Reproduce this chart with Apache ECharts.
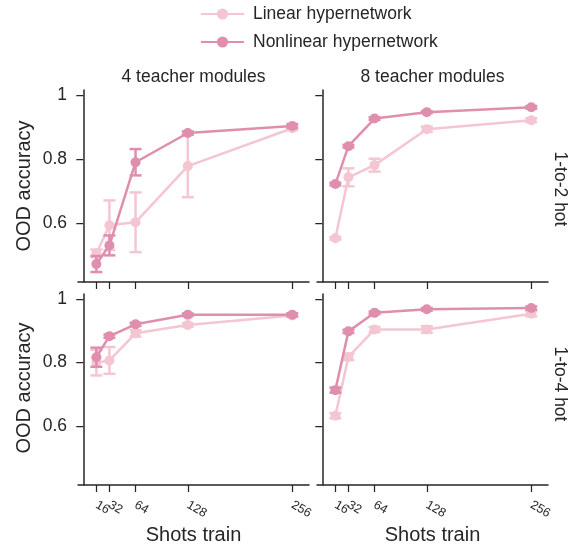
<!DOCTYPE html>
<html>
<head>
<meta charset="utf-8">
<script src="https://cdn.jsdelivr.net/npm/echarts@6/dist/echarts.min.js"></script>
<style>
html,body{margin:0;padding:0;background:#fff;}
#chart{width:569px;height:548px;}
</style>
</head>
<body>
<div id="chart"></div>
<script>
// ---- data ----
const shots = [16, 32, 64, 128, 256];
const xTickLabels = ['16', '32', '64', '128', '256'];
const yTicks = [0.6, 0.8, 1];
const colTitles = ['4 teacher modules', '8 teacher modules'];
const rowTitles = ['1-to-2 hot', '1-to-4 hot'];
const seriesNames = ['Linear hypernetwork', 'Nonlinear hypernetwork'];

// panel order: [4 teachers 1-to-2, 8 teachers 1-to-2, 4 teachers 1-to-4, 8 teachers 1-to-4]
const linearMean = [
  [0.506, 0.594, 0.603, 0.778, 0.896],
  [0.553, 0.743, 0.781, 0.893, 0.921],
  [0.800, 0.807, 0.892, 0.918, 0.948],
  [0.634, 0.818, 0.904, 0.904, 0.953]
];
const linearErr = [
  [0.012, 0.077, 0.093, 0.097, 0.006],
  [0.004, 0.028, 0.020, 0.008, 0.006],
  [0.040, 0.042, 0.010, 0.005, 0.004],
  [0.008, 0.010, 0.008, 0.010, 0.008]
];
const nonlinearMean = [
  [0.473, 0.531, 0.790, 0.881, 0.903],
  [0.722, 0.840, 0.926, 0.946, 0.961],
  [0.817, 0.883, 0.920, 0.950, 0.950],
  [0.714, 0.898, 0.956, 0.967, 0.971]
];
const nonlinearErr = [
  [0.025, 0.031, 0.041, 0.005, 0.006],
  [0.004, 0.004, 0.004, 0.003, 0.004],
  [0.030, 0.005, 0.005, 0.004, 0.005],
  [0.008, 0.005, 0.004, 0.004, 0.005]
];

// ---- style ----
const colors = ['#f4c6d2', '#e08eae'];
const ink = '#262626';
const font = "'Liberation Sans', Arial, sans-serif";

const grids = [
  {left: 78, top: 90, width: 231, height: 192},
  {left: 317, top: 90, width: 231, height: 192},
  {left: 78, top: 294, width: 231, height: 191},
  {left: 317, top: 294, width: 231, height: 191}
];

// tick labels split into two label sets so the crowded 16/32 pair both show
const labelSetA = [shots[0], shots[2], shots[3], shots[4]];
const labelSetB = [shots[1]];

function xLabelCfg(show, values) {
  return {
    show: show, customValues: values, rotate: -30, align: 'left', verticalAlign: 'middle',
    hideOverlap: false, margin: 19, fontSize: 12.5, fontFamily: font, color: ink,
    formatter: v => xTickLabels[shots.indexOf(v)]
  };
}

const xAxes = grids.map((g, i) => ({
  gridIndex: i, type: 'value', min: -6.5, max: 276.5, position: 'bottom',
  axisLine: {show: true, lineStyle: {color: ink, width: 1.5}},
  splitLine: {show: false},
  axisTick: {show: true, customValues: shots, length: 7, lineStyle: {color: ink, width: 1.25}},
  axisLabel: xLabelCfg(i >= 2, labelSetA)
}));
// secondary label-only axes for bottom panels
[2, 3].forEach(i => {
  xAxes.push({
    gridIndex: i, type: 'value', min: -6.5, max: 276.5, position: 'bottom', offset: 0,
    axisLine: {show: false}, axisTick: {show: false}, splitLine: {show: false},
    axisLabel: xLabelCfg(true, labelSetB)
  });
});

const yAxes = grids.map((g, i) => ({
  gridIndex: i, type: 'value', min: 0.417, max: 1.015,
  axisLine: {show: true, lineStyle: {color: ink, width: 1.5}},
  splitLine: {show: false},
  axisTick: {show: true, customValues: yTicks, length: 7, lineStyle: {color: ink, width: 1.25}},
  axisLabel: {
    show: i % 2 === 0, customValues: yTicks, margin: 11, fontSize: 17.5, fontFamily: font, color: ink,
    formatter: v => String(v)
  }
}));

function errSeries(panel, means, errs, color, z) {
  return {
    type: 'custom', xAxisIndex: panel, yAxisIndex: panel, z: z, silent: true, clip: false,
    data: shots.map((s, k) => [s, means[k] - errs[k], means[k] + errs[k]]),
    renderItem: function (params, api) {
      const x = api.value(0), lo = api.value(1), hi = api.value(2);
      const p1 = api.coord([x, hi]), p2 = api.coord([x, lo]);
      const w = 6;
      const st = {stroke: color, lineWidth: 2.5};
      return {type: 'group', children: [
        {type: 'line', shape: {x1: p1[0], y1: p1[1], x2: p2[0], y2: p2[1]}, style: st},
        {type: 'line', shape: {x1: p1[0] - w, y1: p1[1], x2: p1[0] + w, y2: p1[1]}, style: st},
        {type: 'line', shape: {x1: p2[0] - w, y1: p2[1], x2: p2[0] + w, y2: p2[1]}, style: st}
      ]};
    }
  };
}

const series = [];
for (let p = 0; p < 4; p++) {
  series.push({
    name: seriesNames[0], type: 'line', xAxisIndex: p, yAxisIndex: p, z: 3,
    data: shots.map((s, k) => [s, linearMean[p][k]]),
    symbol: 'circle', symbolSize: 10, showSymbol: true,
    lineStyle: {color: colors[0], width: 2.5}, itemStyle: {color: colors[0]}
  });
  series.push({
    name: seriesNames[1], type: 'line', xAxisIndex: p, yAxisIndex: p, z: 5,
    data: shots.map((s, k) => [s, nonlinearMean[p][k]]),
    symbol: 'circle', symbolSize: 10, showSymbol: true,
    lineStyle: {color: colors[1], width: 2.5}, itemStyle: {color: colors[1]}
  });
}
for (let p = 0; p < 4; p++) {
  series.push(errSeries(p, linearMean[p], linearErr[p], colors[0], 2));
  series.push(errSeries(p, nonlinearMean[p], nonlinearErr[p], colors[1], 4));
}

function txt(x, y, text, size, rot) {
  return {
    type: 'text', x: x, y: y, rotation: rot || 0, silent: true,
    style: {text: text, x: 0, y: 0, align: 'center', verticalAlign: 'middle',
      fontSize: size, fontFamily: font, fill: ink}
  };
}

const graphics = [
  txt(193.5, 77, colTitles[0], 17.5),
  txt(432.5, 77, colTitles[1], 17.5),
  txt(24, 186, 'OOD accuracy', 20, Math.PI / 2),
  txt(24, 388, 'OOD accuracy', 20, Math.PI / 2),
  txt(193.5, 535, 'Shots train', 20),
  txt(432.5, 535, 'Shots train', 20),
  txt(560, 189, rowTitles[0], 17.5, -Math.PI / 2),
  txt(560, 384, rowTitles[1], 17.5, -Math.PI / 2)
];

const chart = echarts.init(document.getElementById('chart'), null, {renderer: 'canvas'});
chart.setOption({
  animation: false,
  backgroundColor: '#fff',
  grid: grids,
  xAxis: xAxes,
  yAxis: yAxes,
  legend: {
    data: seriesNames, orient: 'vertical', left: 200, top: 5, padding: 0,
    itemWidth: 43, itemHeight: 14, itemGap: 10,
    textStyle: {fontSize: 17.5, fontFamily: font, color: ink, padding: [0, 0, 0, 4]}
  },
  series: series,
  graphic: graphics
});
</script>
</body>
</html>
